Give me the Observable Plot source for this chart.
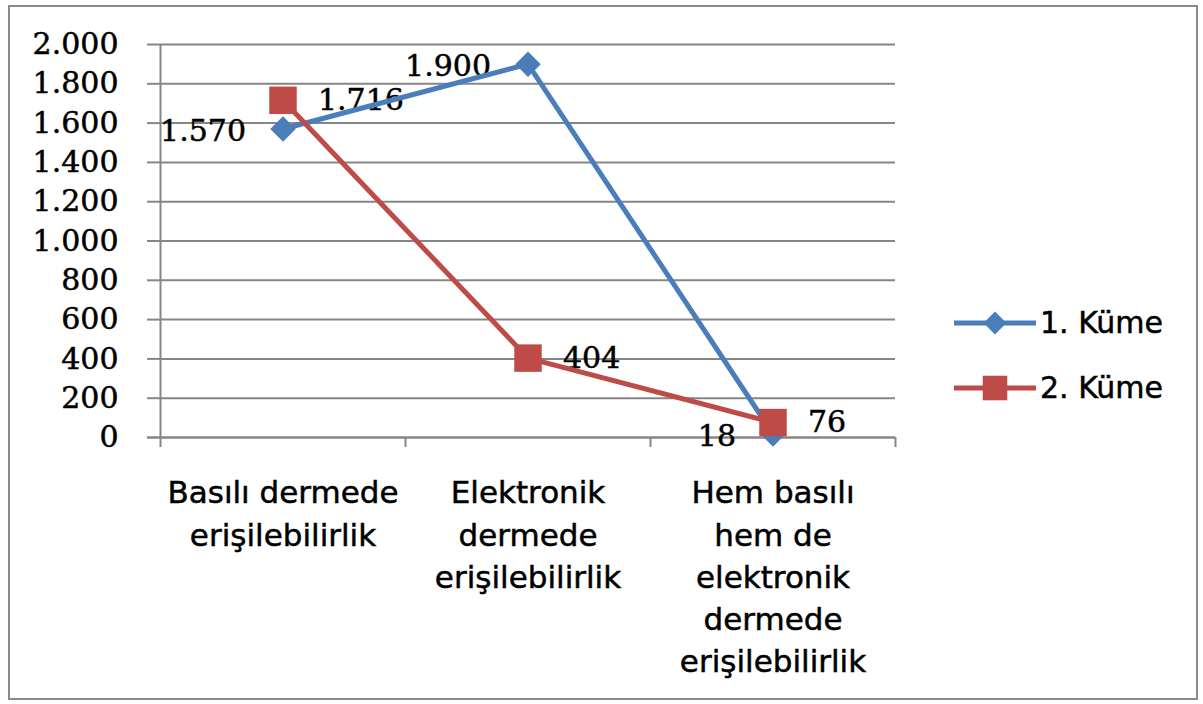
<!DOCTYPE html>
<html>
<head>
<meta charset="utf-8">
<script src="https://cdn.jsdelivr.net/npm/d3@7"></script>
<script src="https://cdn.jsdelivr.net/npm/@observablehq/plot@0.6"></script>
<style>
  html, body { margin: 0; padding: 0; background: #fff; }
  #wrap { position: relative; width: 1203px; height: 704px; overflow: hidden; }
  #border { position: absolute; left: 8px; top: 5px; width: 1190px; height: 695px; box-sizing: border-box; border: 2px solid #8a8a8a; }
  #chart { position: absolute; left: 0; top: 0; }
  #chart text { stroke: #000; stroke-width: 0.5px; }
  #legend { position: absolute; left: 950px; top: 290px; }
  .leg-item { display: flex; align-items: center; height: 65px; }
  .leg-item span { font-family: "DejaVu Sans", sans-serif; font-size: 30px; color: #000; margin-left: 4px; line-height: 1; -webkit-text-stroke: 0.5px #000; }
</style>
</head>
<body>
<div id="wrap">
  <div id="border"></div>
  <div id="chart"></div>
  <div id="legend"></div>
</div>
<script>
const categories = [
  "Basılı dermede\nerişilebilirlik",
  "Elektronik\ndermede\nerişilebilirlik",
  "Hem basılı\nhem de\nelektronik\ndermede\nerişilebilirlik"
];
const seriesNames = ["1. Küme", "2. Küme"];
const kume1 = [1570, 1900, 18];
const kume2 = [1716, 404, 76];
const yTicks = [0, 200, 400, 600, 800, 1000, 1200, 1400, 1600, 1800, 2000];

const colors = ["#4a7ebb", "#be4b48"];
const gridColor = "#868686";
const serif = "DejaVu Serif, Liberation Serif, serif";
const sans = "DejaVu Sans, sans-serif";

const loc = d3.formatLocale({decimal: ",", thousands: ".", grouping: [3], currency: ["", ""]});
const fmt = loc.format(",d");

const d1 = kume1.map((v, i) => ({i, value: v, series: seriesNames[0]}));
const d2 = kume2.map((v, i) => ({i, value: v, series: seriesNames[1]}));
const bounds = d3.range(categories.length + 1).map(k => k - 0.5);

const chart = Plot.plot({
  width: 1203,
  height: 704,
  marginLeft: 160,
  marginRight: 308,
  marginTop: 44,
  marginBottom: 267,
  style: {background: "transparent", overflow: "visible"},
  x: {type: "linear", domain: [-0.5, categories.length - 0.5]},
  y: {domain: [0, 2000]},
  color: {domain: seriesNames, range: colors},
  marks: [
    Plot.gridY(yTicks, {stroke: gridColor, strokeOpacity: 1, strokeWidth: 2}),
    Plot.axisY({ticks: yTicks, tickFormat: fmt, tickSize: 13, tickPadding: 29,
      fontSize: 30, fontFamily: serif, stroke: gridColor, strokeWidth: 2, fill: "#000", label: null}),
    Plot.axisX({ticks: bounds, tickFormat: () => "", tickSize: 10, stroke: gridColor, strokeWidth: 2, label: null}),
    Plot.axisX({ticks: d3.range(categories.length), tickFormat: i => categories[i], tickSize: 0,
      tickPadding: 36, fontSize: 31, lineHeight: 1.36, fontFamily: sans, fill: "#000", label: null}),
    Plot.ruleX([-0.5], {stroke: gridColor, strokeWidth: 2}),
    Plot.ruleY([0], {x1: -0.5 - 13 / 245, x2: categories.length - 0.5, stroke: gridColor, strokeWidth: 2}),
    Plot.text(d1, {x: "i", y: "value", text: d => fmt(d.value), textAnchor: "end", dx: -37, dy: 2,
      fontSize: 30, fontFamily: serif, fill: "#000"}),
    Plot.text(d2, {x: "i", y: "value", text: d => fmt(d.value), textAnchor: "start", dx: 35, dy: 0,
      fontSize: 30, fontFamily: serif, fill: "#000"}),
    Plot.line(d1, {x: "i", y: "value", stroke: "series", strokeWidth: 5}),
    Plot.dot(d1, {x: "i", y: "value", symbol: "diamond2", r: 11.5, fill: "series", stroke: "none"}),
    Plot.line(d2, {x: "i", y: "value", stroke: "series", strokeWidth: 5}),
    Plot.dot(d2, {x: "i", y: "value", symbol: "square", r: 15.5, fill: "series", stroke: "none"})
  ]
});
document.getElementById("chart").appendChild(chart);

// legend
const legend = d3.select("#legend");
const symbols = [d3.symbolDiamond2, d3.symbolSquare];
const symSize = [Math.PI * 11.5 * 11.5 * 0.8, Math.PI * 15.5 * 15.5 * 0.8];
seriesNames.forEach((name, k) => {
  const item = legend.append("div").attr("class", "leg-item");
  const svg = item.append("svg").attr("width", 86).attr("height", 40);
  svg.append("line").attr("x1", 4).attr("x2", 86).attr("y1", 20).attr("y2", 20)
    .attr("stroke", colors[k]).attr("stroke-width", 5);
  svg.append("path").attr("d", d3.symbol(symbols[k], symSize[k])())
    .attr("transform", "translate(45,20)").attr("fill", colors[k]);
  item.append("span").text(name);
});
</script>
</body>
</html>
